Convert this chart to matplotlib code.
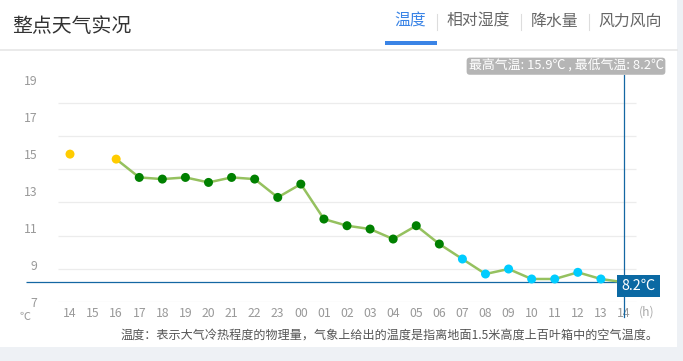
import numpy as np
import matplotlib
matplotlib.use("Agg")
import matplotlib.pyplot as plt
from matplotlib.patches import Rectangle
from matplotlib.lines import Line2D

plt.rcParams['font.family'] = ['Noto Sans CJK SC', 'DejaVu Sans']

TITLE = "整点天气实况"
TABS = ["温度", "相对湿度", "降水量", "风力风向"]
HOURS = ["14", "15", "16", "17", "18", "19", "20", "21", "22", "23",
         "00", "01", "02", "03", "04", "05", "06", "07", "08", "09",
         "10", "11", "12", "13", "14"]
TEMPS = [15.9, np.nan, 15.6, 14.5, 14.4, 14.5, 14.2, 14.5, 14.4, 13.3,
         14.1, 12.0, 11.6, 11.4, 10.8, 11.6, 10.5, 9.6, 8.7, 9.0,
         8.4, 8.4, 8.8, 8.4, 8.2]
Y_TICKS = [7, 9, 11, 13, 15, 17, 19]
FOOTER = "温度：表示大气冷热程度的物理量，气象上给出的温度是指离地面1.5米高度上百叶箱中的空气温度。"

W, H = 683, 361
BLUE = "#1467a3"
LINE_GREEN = "#95c15f"


def fx(x):
    return x / W


def fy(y):
    return 1 - y / H


def point_color(t):
    if t >= 15:
        return "#ffcc00"
    if t >= 10:
        return "#008000"
    return "#00ccff"


fig = plt.figure(figsize=(W / 100, H / 100), dpi=100, facecolor="#eef1f5")
fig.add_artist(Rectangle((0, fy(347)), fx(677), 347 / H, transform=fig.transFigure,
                         facecolor="white", edgecolor="none", zorder=0))

# header
fig.text(fx(12), fy(26.5), TITLE, fontsize=14.3, color="#333333", va="center", ha="left")
tab_x = [410, 478, 555, 630]
for i, (lab, x) in enumerate(zip(TABS, tab_x)):
    fig.text(fx(x), fy(21.5), lab, fontsize=11.4, ha="center", va="center",
             color="#3a84e6" if i == 0 else "#666666")
for x in [437, 521, 589]:
    fig.add_artist(Line2D([fx(x), fx(x)], [fy(14), fy(30)], color="#dddddd", lw=0.8))
fig.add_artist(Rectangle((fx(385), fy(44.5)), fx(52), 3 / H, transform=fig.transFigure,
                         facecolor="#3a84e6", edgecolor="none"))
fig.add_artist(Line2D([0, fx(677)], [fy(50), fy(50)], color="#e6e6e6", lw=1.2))

# chart axes: x index i -> pixel 70 + 23.083*i ; temp 7 -> y 302.3, 16.65 px/deg
step = 23.083
ax_l, ax_r, ax_t, ax_b = 26, 676, 69, 302.3
ax = fig.add_axes([fx(ax_l), fy(ax_b), fx(ax_r - ax_l), (ax_b - ax_t) / H])
ax.set_facecolor("none")
ax.set_xlim((ax_l - 70) / step, (ax_r - 70) / step)
ax.set_ylim(7, 7 + (ax_b - ax_t) / 16.65)
for s in ax.spines.values():
    s.set_visible(False)

x = np.arange(len(HOURS))
temps = np.array(TEMPS)
ax.hlines(Y_TICKS, -0.5, len(HOURS) - 0.5, color="#ececec", lw=0.9, zorder=1)

ax.plot(x, temps, color=LINE_GREEN, lw=1.8, zorder=3)
valid = ~np.isnan(temps)
ax.scatter(x[valid], temps[valid], s=42, c=[point_color(t) for t in temps[valid]],
           edgecolors="none", zorder=4)

tmin = np.nanmin(temps)
tmax = np.nanmax(temps)
last = len(HOURS) - 1
ax.hlines(tmin, ax.get_xlim()[0], last, color=BLUE, lw=0.9, zorder=2)
ax.axvline(last, ymin=-0.062, ymax=0.974, color=BLUE, lw=0.9, zorder=2, clip_on=False)

ax.annotate(f"{tmin}℃", xy=(last, tmin), xytext=(14.5, -3.4), textcoords="offset pixels",
            ha="center", va="center", fontsize=10.4, color="white", zorder=6,
            bbox=dict(boxstyle="square,pad=0.28", fc="#0b69a3", ec="none"))

ax.set_xticks(x)
ax.set_xticklabels(HOURS)
ax.tick_params(axis="x", length=0, pad=3.5, labelsize=8.8, labelcolor="#999999")
ax.set_yticks([])

# y labels use their own scale (7 at bottom, 18.5 px per degree)
ax2 = ax.twinx()
ax2.set_ylim(7, 7 + (ax_b - ax_t) / 18.5)
ax2.yaxis.tick_left()
ax2.set_yticks(Y_TICKS)
ax2.set_yticklabels([str(v) for v in Y_TICKS])
ax2.tick_params(axis="y", length=0, pad=-8.2, labelsize=8.8, labelcolor="#999999")
for s in ax2.spines.values():
    s.set_visible(False)

fig.text(fx(647), fy(312.5), "(h)", fontsize=8.8, color="#aaaaaa", ha="center", va="center")
fig.text(fx(25), fy(316.5), "℃", fontsize=8, color="#999999", ha="center", va="center")

fig.text(fx(566), fy(66.2), f"最高气温: {tmax}℃ , 最低气温: {tmin}℃", fontsize=9.3,
         color="white", ha="center", va="center",
         bbox=dict(boxstyle="round,pad=0.15,rounding_size=0.25", fc="#b5b5b5", ec="none"))

fig.text(fx(659), fy(335), FOOTER, fontsize=8.7, color="#555555", ha="right", va="center")

fig.savefig("out.png", dpi=100, facecolor=fig.get_facecolor())
